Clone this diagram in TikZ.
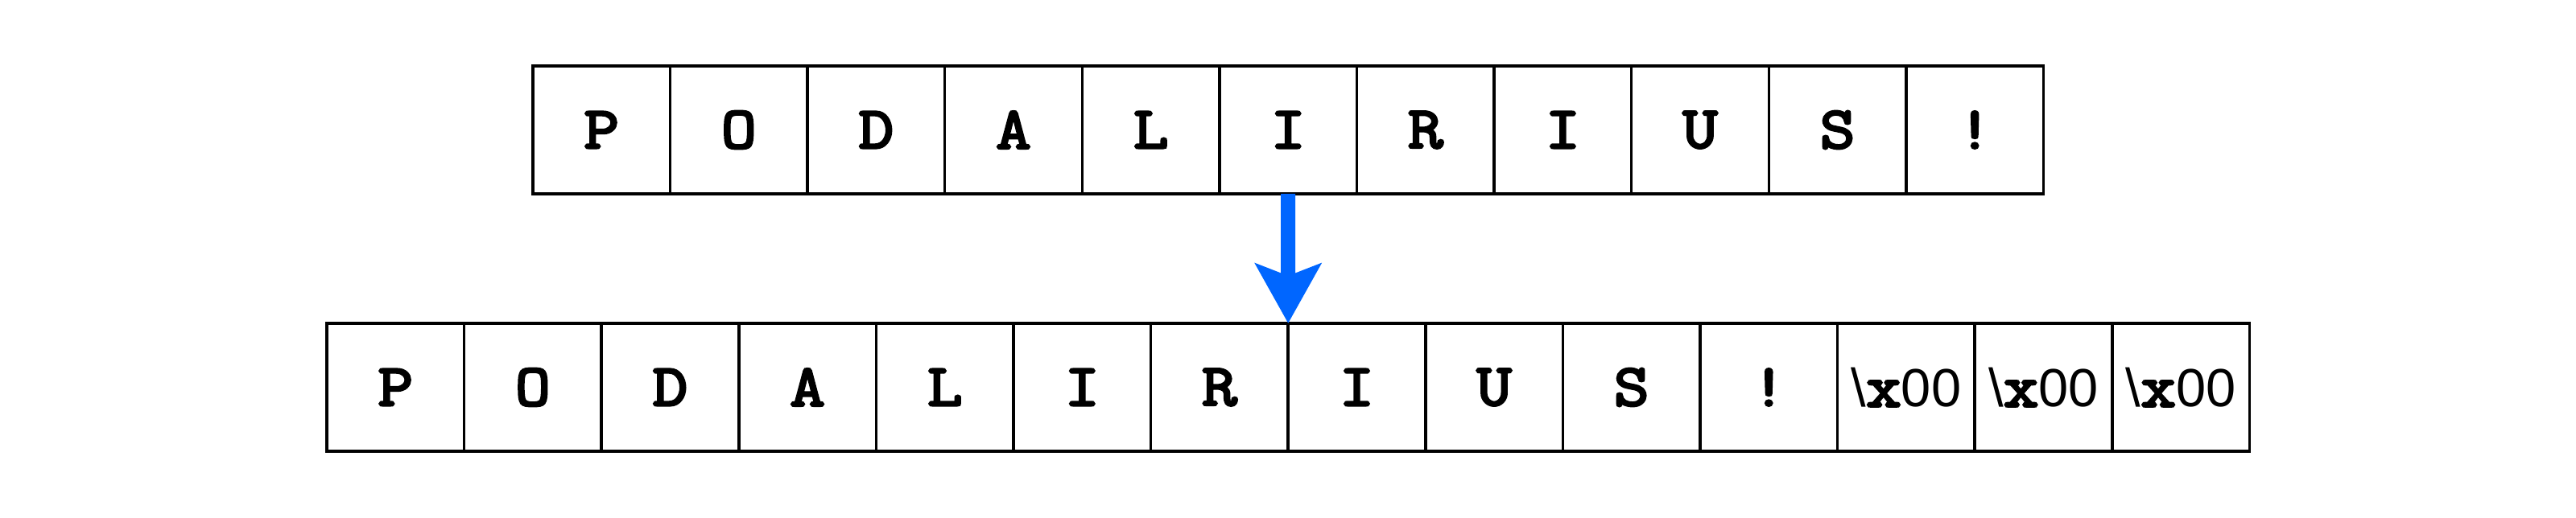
\documentclass[tikz,border=0pt]{standalone}
\usepackage{fontspec}
\newfontfamily\cellfont[FakeBold=4, FakeStretch=1.15]{Latin Modern Mono}
\newfontfamily\hexfont{Liberation Sans}
\usetikzlibrary{arrows.meta, positioning}
\definecolor{flowblue}{RGB}{0,102,255}
\newcommand{\nullbyte}{{\hexfont\mdseries\fontsize{19}{22}\selectfont\textbackslash}x{\hexfont\mdseries\fontsize{19}{22}\selectfont 00}}

\begin{document}
\begin{tikzpicture}[
  cell/.style={rectangle, draw, line width=1pt, minimum width=1.706cm, minimum height=1.59cm, inner sep=0pt, outer sep=0pt, font=\cellfont\bfseries\fontsize{21}{25}\selectfont},
  flow/.style={-{Stealth[length=7.4mm, width=8.1mm, inset=1.5mm]}, line width=1.8mm, flowblue}
]
  \useasboundingbox (0,0) rectangle (32,-6.44);

  % Original string
  \node[cell, anchor=north west] (t1) at (6.619,-0.82) {P};
  \node[cell, right=0pt of t1] (t2) {O};
  \node[cell, right=0pt of t2] (t3) {D};
  \node[cell, right=0pt of t3] (t4) {A};
  \node[cell, right=0pt of t4] (t5) {L};
  \node[cell, right=0pt of t5] (t6) {I};
  \node[cell, right=0pt of t6] (t7) {R};
  \node[cell, right=0pt of t7] (t8) {I};
  \node[cell, right=0pt of t8] (t9) {U};
  \node[cell, right=0pt of t9] (t10) {S};
  \node[cell, right=0pt of t10] (t11) {!};

  % Padded string
  \node[cell, anchor=north west] (b1) at (4.06,-4.02) {P};
  \node[cell, right=0pt of b1] (b2) {O};
  \node[cell, right=0pt of b2] (b3) {D};
  \node[cell, right=0pt of b3] (b4) {A};
  \node[cell, right=0pt of b4] (b5) {L};
  \node[cell, right=0pt of b5] (b6) {I};
  \node[cell, right=0pt of b6] (b7) {R};
  \node[cell, right=0pt of b7] (b8) {I};
  \node[cell, right=0pt of b8] (b9) {U};
  \node[cell, right=0pt of b9] (b10) {S};
  \node[cell, right=0pt of b10] (b11) {!};
  \node[cell, right=0pt of b11] (b12) {\nullbyte};
  \node[cell, right=0pt of b12] (b13) {\nullbyte};
  \node[cell, right=0pt of b13] (b14) {\nullbyte};

  \draw[flow] (t6.south) -- (b8.north west);
\end{tikzpicture}
\end{document}
